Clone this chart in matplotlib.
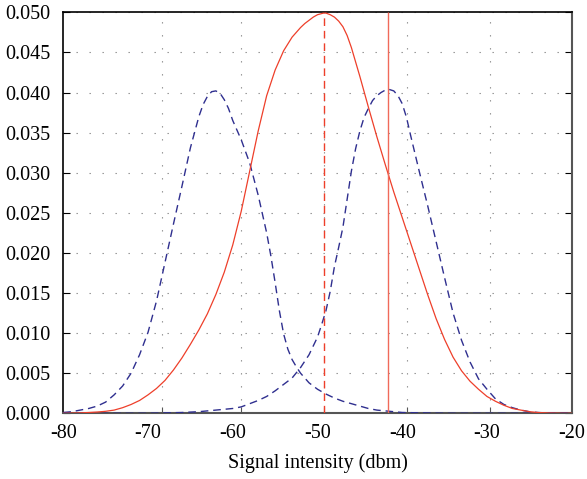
import matplotlib
matplotlib.use("Agg")
import matplotlib.pyplot as plt

plt.rcParams['font.family'] = ['Liberation Serif', 'DejaVu Serif']

# ---- data ----
red_x = [-80, -79, -78, -77, -76, -75, -74, -73, -72, -71, -70, -69, -68, -67, -66, -65,
         -64, -63, -62, -61, -60, -59, -58, -57, -56, -55, -54, -53, -52, -51.5, -51, -50.5,
         -50, -49.3, -49, -48.5, -48, -47.5, -47, -46.5, -46, -45, -44, -43, -42, -41, -40,
         -39, -38, -37, -36, -35, -34, -33, -32, -31, -30, -29, -28, -27, -26, -25, -24,
         -23, -22, -21, -20]
red_y = [0.0000, 0.00002, 0.00005, 0.0001, 0.00016, 0.00025, 0.0004, 0.0007, 0.0011, 0.0016,
         0.0023, 0.0031, 0.0041, 0.0054, 0.0069, 0.0086, 0.0104, 0.0124, 0.0148, 0.0176,
         0.0210, 0.0252, 0.0302, 0.0352, 0.0396, 0.0428, 0.0452, 0.0469, 0.0481, 0.0486,
         0.0490, 0.0494, 0.0497, 0.0499, 0.0499, 0.0497, 0.0494, 0.0489, 0.0482, 0.0471,
         0.0456, 0.0420, 0.0382, 0.0345, 0.0310, 0.0276, 0.0244, 0.0212, 0.0180, 0.0148,
         0.0118, 0.0092, 0.0070, 0.0053, 0.0040, 0.0030, 0.0021, 0.0015, 0.0010, 0.0006,
         0.0004, 0.0002, 0.0001, 0.00005, 0.00002, 0.0000, 0.0000]

blue1_x = [-80, -79, -78, -77, -76, -75, -74, -73, -72, -71, -70, -69, -68, -67, -66, -65,
           -64, -63.5, -63, -62.5, -62, -61.5, -61, -60.5, -60, -59, -58, -57, -56, -55.5,
           -55, -54.5, -54, -53.5, -53, -52.5, -52, -51, -50, -49, -48, -47, -46, -45, -44,
           -43, -42, -41, -40, -35, -30, -25, -20]
blue1_y = [0.0001, 0.0002, 0.0004, 0.0006, 0.0009, 0.0014, 0.0023, 0.0034, 0.0050, 0.0073,
           0.0101, 0.0140, 0.0188, 0.0236, 0.0283, 0.0331, 0.0370, 0.0385, 0.0395, 0.0401,
           0.0402, 0.0399, 0.0391, 0.0380, 0.0365, 0.0341, 0.0312, 0.0272, 0.0225, 0.0196,
           0.0163, 0.0128, 0.0099, 0.0080, 0.0067, 0.0058, 0.0050, 0.0038, 0.0030, 0.0024,
           0.0019, 0.0015, 0.0012, 0.0009, 0.0006, 0.0004, 0.0003, 0.0002, 0.0001, 0.0000,
           0.0000, 0.0000, 0.0000]

blue2_x = [-80, -75, -70, -66, -64, -62, -60, -59, -58, -57, -56, -55, -54, -53, -52, -51,
           -50, -49.5, -49, -48.5, -48, -47.5, -47, -46.5, -46, -45.5, -45, -44.5, -44, -43.5,
           -43, -42.5, -42, -41.6, -41, -40.5, -40, -39.5, -39, -38.5, -38, -37, -36, -35,
           -34, -33, -32, -31, -30, -29, -28, -27, -26, -25, -24, -22, -20]
blue2_y = [0.0000, 0.0000, 0.0000, 0.0001, 0.0002, 0.0004, 0.0006, 0.0008, 0.0012, 0.0016,
           0.0021, 0.0028, 0.0036, 0.0044, 0.0057, 0.0073, 0.0095, 0.0111, 0.0128, 0.0152,
           0.0183, 0.0207, 0.0232, 0.0267, 0.0302, 0.0330, 0.0352, 0.0369, 0.0380, 0.0390,
           0.0396, 0.0400, 0.0403, 0.0404, 0.0402, 0.0396, 0.0386, 0.0369, 0.0346, 0.0324,
           0.0302, 0.0259, 0.0214, 0.0169, 0.0125, 0.0091, 0.0064, 0.0043, 0.0030, 0.0018,
           0.0011, 0.0007, 0.0004, 0.0002, 0.0001, 0.0000, 0.0000]

red_peak_x = -49.2
red_peak_y = 0.0499
threshold_x = -41.7

x_ticks = [-80, -70, -60, -50, -40, -30, -20]
y_ticks = [0.000, 0.005, 0.010, 0.015, 0.020, 0.025, 0.030, 0.035, 0.040, 0.045, 0.050]
x_grid = [-68.3, -59.0, -49.2, -39.4, -29.6]
x_label = "Signal intensity (dbm)"

# ---- figure ----
W, H = 587, 479
fig = plt.figure(figsize=(W / 100, H / 100), dpi=100)
L, R, T, B = 63.3, 571.7, 12.3, 413.3
ax = fig.add_axes([L / W, (H - B) / H, (R - L) / W, (B - T) / H])

red = '#ee3f2a'
blue = '#2f2f8f'
dash = (0, (5.5, 3.5))

ax.plot(blue1_x, blue1_y, color=blue, lw=1.0, linestyle=dash, zorder=3)
ax.plot(blue2_x, blue2_y, color=blue, lw=1.0, linestyle=dash, zorder=3)
ax.plot(red_x, red_y, color=red, lw=0.9, zorder=4)
ax.vlines(red_peak_x, 0, red_peak_y, color=red, lw=1.0, linestyles=[dash], zorder=4)
ax.vlines(threshold_x, 0, 0.05, color='#f06a5a', lw=1.0, zorder=4)

ax.set_xlim(-80, -20)
ax.set_ylim(0, 0.05)

ax.set_xticks(x_ticks)
ax.set_xticklabels([f"{v:d}" for v in x_ticks])
ax.set_yticks(y_ticks)
ax.set_yticklabels([f"{v:.3f}" for v in y_ticks])
ax.set_xticks(x_grid, minor=True)

fs = 14.5
ax.tick_params(axis='x', which='major', length=0, pad=8, labelsize=fs)
ax.tick_params(axis='x', which='minor', direction='in', length=4, width=0.8, color='#555555')
ax.tick_params(axis='y', which='major', direction='in', length=5, width=0.8,
               right=True, labelsize=fs, pad=9)

grid_style = dict(color='#8a8a8a', lw=0.8, linestyle=(0, (1.2, 10.5)))
ax.grid(False)
ax.yaxis.grid(True, which='major', **grid_style)
ax.xaxis.grid(True, which='minor', **grid_style)
ax.set_axisbelow(True)

for s in ['left', 'top']:
    ax.spines[s].set_color('black')
    ax.spines[s].set_linewidth(1.2)
for s in ['right', 'bottom']:
    ax.spines[s].set_color('#555555')
    ax.spines[s].set_linewidth(1.5)

ax.set_xlabel(x_label, fontsize=fs, labelpad=7)

fig.savefig("out.png", dpi=100)
